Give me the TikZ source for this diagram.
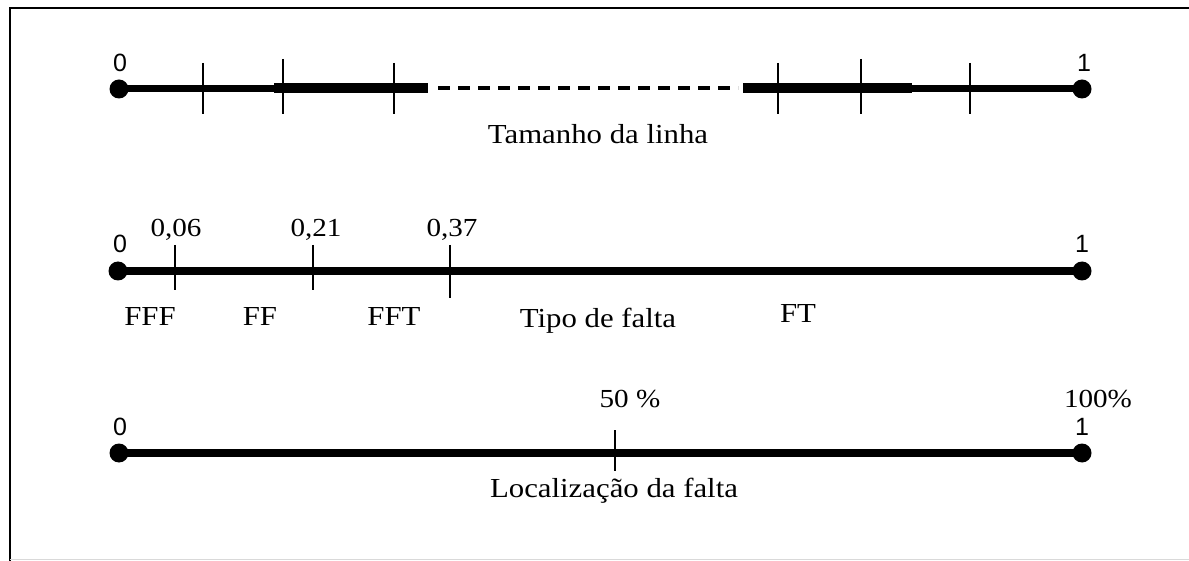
\documentclass[tikz,border=0pt]{standalone}
\usepackage{fontspec}
\setmainfont{Liberation Serif}[FakeStretch=1.12]
\newfontfamily\endfont{Liberation Sans}
\tikzset{ %styles of the three scales
  {end point/.style} ={circle,fill=black,inner sep=0,minimum size=19pt},
  {axis/.style} ={draw,line width=7pt},
  {heavy axis/.style} ={draw,line width=10pt},
  {gap axis/.style} ={draw,line width=4.5pt,dash pattern=on 12pt off 8pt},
  {tick/.style} ={draw,line width=2.5pt},
  {txt/.style} ={inner sep=0,anchor=base,font=\fontsize{27.5}{32}\selectfont},
  {num/.style} ={txt,font=\fontsize{26}{30}\selectfont},
  {end num/.style} ={inner sep=0,anchor=base,font=\endfont\fontsize{25}{28}\selectfont},
}

\begin{document}
\begin{tikzpicture}[x=1pt,y=-1pt]
    \useasboundingbox (0,0) rectangle (1189,561);
    \draw[line width=2pt] (10,561) -- (10,8) -- (1189,8);
    \draw[gray!30,line width=1pt] (10,559) -- (1189,559);

    % tamanho da linha
    \node[end point] (a0) at (119,89) {};
    \node[end point] (a1) at (1082,89) {};
    \coordinate (a2) at (274,88);
    \coordinate (a3) at (428,88);
    \coordinate (a4) at (438,88);
    \coordinate (a5) at (738,88);
    \coordinate (a6) at (743,88);
    \coordinate (a7) at (912,88);
    \draw[axis] (a0.center) -- (a2 |- a0);
    \draw[heavy axis] (a2) -- (a3);
    \draw[gap axis] (a4) -- (a5);
    \draw[heavy axis] (a6) -- (a7);
    \draw[axis] (a7 |- a1) -- (a1.center);
    \foreach \x in {203,394,778,970}
        \draw[tick] (\x,63) -- (\x,114);
    \foreach \x in {283,861}
        \draw[tick] (\x,59) -- (\x,114);
    \node[end num] (a0n) at (120,72) {0};
    \node[end num] (a1n) at (1084,72) {1};
    \node[txt] (tamanho) at (598,144) {Tamanho da linha};

    % tipo de falta
    \node[end point] (b0) at (118,271) {};
    \node[end point] (b1) at (1082,271) {};
    \draw[axis,line width=8pt] (b0.center) -- (b1.center);
    \draw[tick] (175,245) -- (175,290);
    \draw[tick] (313,245) -- (313,290);
    \draw[tick] (450,245) -- (450,298);
    \node[end num] (b0n) at (120,253) {0};
    \node[end num] (b1n) at (1082,253) {1};
    \node[num] (v06) at (176,237) {0,06};
    \node[num] (v21) at (316,237) {0,21};
    \node[num] (v37) at (452,237) {0,37};
    \node[txt] (fff) at (150,326) {FFF};
    \node[txt] (ff) at (260,326) {FF};
    \node[txt] (fft) at (394,326) {FFT};
    \node[txt] (tipo) at (598,328) {Tipo de falta};
    \node[txt] (ft) at (798,323) {FT};

    % localizacao da falta
    \node[end point] (c0) at (119,453) {};
    \node[end point] (c1) at (1082,453) {};
    \draw[axis,line width=8pt] (c0.center) -- (c1.center);
    \draw[tick] (615,430) -- (615,471);
    \node[end num] (c0n) at (120,435) {0};
    \node[end num] (c1n) at (1082,435) {1};
    \node[num] (meio) at (630,407) {50 \%};
    \node[num] (todo) at (1098,407) {100\%};
    \node[txt] (local) at (614,497) {Localização da falta};
\end{tikzpicture}
\end{document}
